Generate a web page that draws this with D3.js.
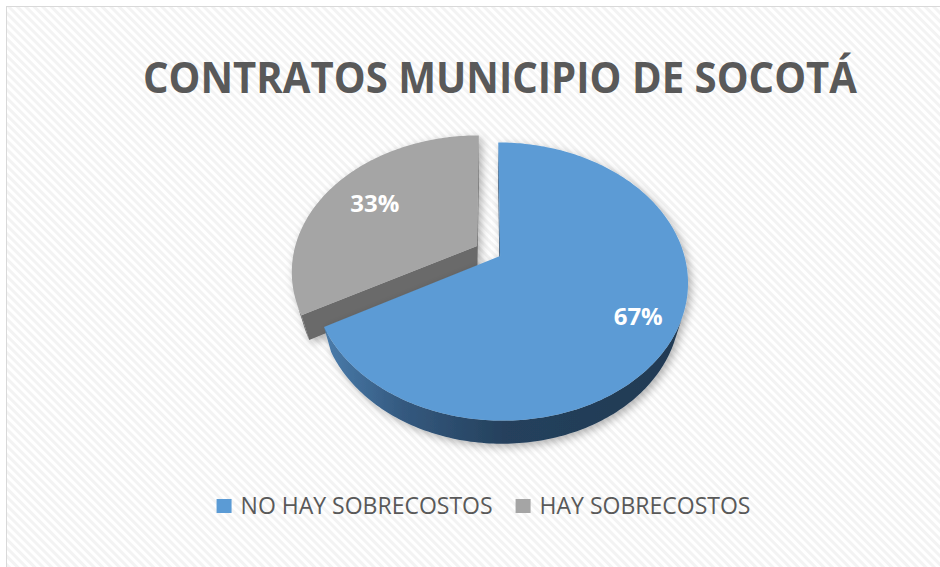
<!DOCTYPE html>
<html>
<head>
<meta charset="utf-8">
<script src="https://cdnjs.cloudflare.com/ajax/libs/d3/7.8.5/d3.min.js"></script>
<style>
  body { margin: 0; background: #fff; }
  svg { display: block; }
</style>
</head>
<body>
<div id="chart"></div>
<script>
// data
const categories = ["NO HAY SOBRECOSTOS", "HAY SOBRECOSTOS"];
const values = [67, 33];
const title = "CONTRATOS MUNICIPIO DE SOCOTÁ";

const width = 940, height = 567;

// colores de cada porción: tapa, pared
const topColors = ["#5B9BD5", "#A5A5A5"];
const sideColors = ["url(#blueSide)", "#6E6E6E"];
const faceColors = ["#2E5275", "#6B6B6B"];
const labelRadius = [0.8, 0.7];

// vista 3D con perspectiva
const view = {
  cx: 488.5, cy: 251,
  F: 692, dist: 3.78,
  tilt: 46.4 * Math.PI / 180,
  depth: 0.21,
  explode: 0.073
};
const sinT = Math.sin(view.tilt), cosT = Math.cos(view.tilt);
const camera = [0, view.dist * sinT, -view.dist * cosT];

function project(x, y, z) {
  const D = view.dist - y * sinT + z * cosT;
  return [view.cx + view.F * x / D, view.cy - view.F * (y * cosT + z * sinT) / D];
}

const svg = d3.select("#chart")
  .append("svg")
  .attr("width", width)
  .attr("height", height);

const defs = svg.append("defs");

const pattern = defs.append("pattern")
  .attr("id", "stripes")
  .attr("patternUnits", "userSpaceOnUse")
  .attr("width", 6).attr("height", 6)
  .attr("patternTransform", "rotate(-45)");
pattern.append("rect").attr("width", 6).attr("height", 6).attr("fill", "#fff");
pattern.append("rect").attr("width", 3).attr("height", 6).attr("fill", "#F3F3F3");

const grad = defs.append("linearGradient").attr("id", "blueSide");
[[0, "#4a7cab"], [0.22, "#34597f"], [0.5, "#25415d"], [1, "#213a53"]].forEach(([o, c]) => {
  grad.append("stop").attr("offset", o).attr("stop-color", c);
});

const shadow = defs.append("filter")
  .attr("id", "shadow")
  .attr("x", "-20%").attr("y", "-20%")
  .attr("width", "140%").attr("height", "140%");
shadow.append("feDropShadow")
  .attr("dx", 3).attr("dy", 3)
  .attr("stdDeviation", 4)
  .attr("flood-color", "#000")
  .attr("flood-opacity", 0.3);

// fondo y borde
svg.append("rect")
  .attr("x", 6.5).attr("y", 6.5)
  .attr("width", 960).attr("height", 580)
  .attr("fill", "url(#stripes)")
  .attr("stroke", "#D9D9D9")
  .attr("stroke-width", 1);

// título
svg.append("text")
  .attr("x", 500).attr("y", 93)
  .attr("text-anchor", "middle")
  .attr("font-family", "'Open Sans', sans-serif")
  .attr("font-weight", "bold")
  .attr("font-size", 43)
  .attr("fill", "#595959")
  .attr("textLength", 714)
  .attr("lengthAdjust", "spacingAndGlyphs")
  .text(title);

// pie 3D
const arcs = d3.pie().sort(null)(values);
const line = d3.line();

const slices = arcs.map((a, i) => {
  const mid = (a.startAngle + a.endAngle) / 2;
  return { a, i, mid, ox: view.explode * Math.sin(mid), oz: view.explode * Math.cos(mid) };
}).sort((p, q) => q.oz - p.oz); // primero la más lejana

const pieG = svg.append("g");

slices.forEach(s => {
  const { a, i, ox, oz } = s;
  const h = -view.depth;
  const rim = (t, y) => project(ox + Math.sin(t), y, oz + Math.cos(t));
  const apex = y => project(ox, y, oz);
  const n = Math.max(2, Math.ceil((a.endAngle - a.startAngle) / (Math.PI / 180)));
  const angles = d3.range(n + 1).map(k => a.startAngle + (a.endAngle - a.startAngle) * k / n);

  const g = pieG.append("g").attr("filter", "url(#shadow)");

  // caras radiales
  const toCam = [camera[0] - ox, camera[2] - oz];
  const faces = [
    { t: a.startAngle, n: [-Math.cos(a.startAngle), Math.sin(a.startAngle)] },
    { t: a.endAngle, n: [Math.cos(a.endAngle), -Math.sin(a.endAngle)] }
  ];
  faces.forEach(f => {
    if (toCam[0] * f.n[0] + toCam[1] * f.n[1] <= 0) return;
    g.append("path")
      .attr("d", line([apex(0), rim(f.t, 0), rim(f.t, h), apex(h)]) + "Z")
      .attr("fill", faceColors[i]);
  });

  // pared exterior visible
  const visible = d3.range(n).map(k => {
    const t = (angles[k] + angles[k + 1]) / 2;
    const px = ox + Math.sin(t), pz = oz + Math.cos(t);
    return -px * Math.sin(t) + (camera[2] - pz) * Math.cos(t) > 0;
  });
  let k = 0;
  while (k < n) {
    if (!visible[k]) { k++; continue; }
    let j = k;
    while (j < n && visible[j]) j++;
    const run = angles.slice(k, j + 1);
    const pts = run.map(t => rim(t, 0)).concat(run.slice().reverse().map(t => rim(t, h)));
    g.append("path")
      .attr("d", line(pts) + "Z")
      .attr("fill", sideColors[i]);
    k = j;
  }

  // tapa
  g.append("path")
    .attr("d", line([apex(0)].concat(angles.map(t => rim(t, 0)))) + "Z")
    .attr("fill", topColors[i]);

  s.label = project(ox + labelRadius[i] * Math.sin(s.mid), 0, oz + labelRadius[i] * Math.cos(s.mid));
});

// etiquetas de porcentaje
const total = d3.sum(values);
svg.append("g")
  .selectAll("text")
  .data(slices)
  .join("text")
  .attr("x", d => d.label[0])
  .attr("y", d => d.label[1])
  .attr("text-anchor", "middle")
  .attr("dominant-baseline", "central")
  .attr("font-family", "'Open Sans', sans-serif")
  .attr("font-weight", "bold")
  .attr("font-size", 24)
  .attr("fill", "#fff")
  .text(d => d3.format(".0%")(d.a.value / total));

// leyenda
const legend = svg.append("g");
const items = legend.selectAll("g")
  .data(categories)
  .join("g");
items.append("rect")
  .attr("width", 15).attr("height", 14)
  .attr("y", -15)
  .attr("fill", (d, i) => topColors[i]);
items.append("text")
  .attr("x", 24)
  .attr("font-family", "'Open Sans', sans-serif")
  .attr("font-size", 23)
  .attr("fill", "#595959")
  .text(d => d);

let xPos = 0;
items.each(function () {
  const w = 24 + d3.select(this).select("text").node().getComputedTextLength();
  d3.select(this).attr("transform", `translate(${xPos},0)`);
  xPos += w + 23;
});
const legendWidth = xPos - 23;
legend.attr("transform", `translate(${483.5 - legendWidth / 2},514)`);
</script>
</body>
</html>
